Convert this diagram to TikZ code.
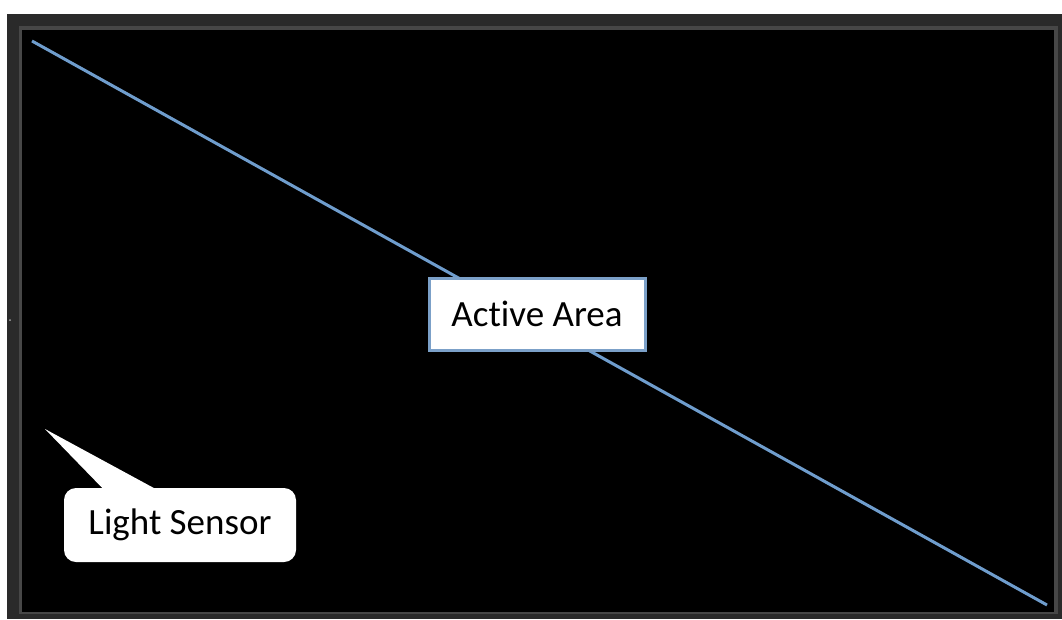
\documentclass[tikz,border=0pt]{standalone}
\usepackage{fontspec}
\setmainfont{Carlito}[Ligatures=NoCommon]
\usepackage{xcolor}
\definecolor{framedark}{HTML}{2A2A2A}
\definecolor{framelight}{HTML}{474747}
\definecolor{diagblue}{HTML}{6F9DCD}
\definecolor{boxblue}{HTML}{7BA0C8}

\begin{document}
\begin{tikzpicture}[%
    x=1pt,
    y=-1pt,
    diag/.style={%
      draw=diagblue,
      line width=3pt
    },
    areabox/.style={%
      rectangle,
      fill=white,
      draw=boxblue,
      line width=3pt,
      minimum width=216pt,
      minimum height=72pt,
      font=\fontsize{37}{44}\selectfont
    },
    sensorbox/.style={%
      rectangle,
      rounded corners=12pt,
      fill=white,
      minimum width=232pt,
      minimum height=74pt,
      font=\fontsize{37}{44}\selectfont
    }
  ]
    \useasboundingbox[fill=white] (0,0) rectangle (1062,619);
    % screen frame
    \fill[framedark]  (7,14)  rectangle (1062,619);
    \fill[framelight] (19,26) rectangle (1058,614);
    \fill[black]      (22,30) rectangle (1054,612);
    \fill[gray!70] (10,320) circle (1pt);

    \coordinate (tl) at (32,41);
    \coordinate (br) at (1047,605);
    \coordinate (sensor) at (45,429);
    \draw[diag] (tl) -- (br);

    \node[areabox]   (area) at (537,314) {Active Area};
    \node[sensorbox] (lbl)  at (180,525) {Light Sensor};

    \fill[white] (sensor) -- ([xshift=-75pt,yshift=-3pt]lbl.north)
                          -- ([xshift=-21pt,yshift=-3pt]lbl.north) -- cycle;
  \end{tikzpicture}
\end{document}
